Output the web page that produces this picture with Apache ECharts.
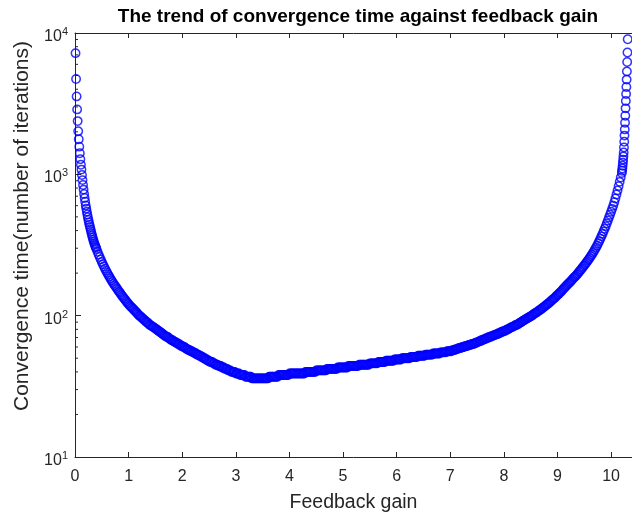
<!DOCTYPE html>
<html>
<head>
<meta charset="utf-8">
<script src="https://cdn.jsdelivr.net/npm/echarts@6/dist/echarts.min.js"></script>
<style>
  html, body { margin: 0; padding: 0; background: #fff; }
  #chart { width: 632px; height: 518px; }
</style>
</head>
<body>
<div id="chart"></div>
<script>
// feedback gain values, left (steep) part
const gainLeft = [
  0.01,0.02,0.03,0.04,0.05,0.06,0.07,0.08,0.09,0.10,
  0.11,0.12,0.13,0.14,0.15,0.16,0.17,0.18,0.19,0.20,
  0.21,0.22,0.23,0.24,0.25,0.26,0.27,0.28,0.29,0.30,
  0.31,0.32,0.33,0.34,0.35,0.36,0.37,0.38,0.39,0.40
];
const itersLeft = [
  7200,4730,3560,2880,2380,2020,1770,1570,1410,1280,
  1170,1080,990,910,840,780,725,680,640,603,
  572,545,520,497,476,457,440,424,408,394,
  380,368,356,345,335,326,318,310,303,296
];

// middle part
const gainMid = [
  0.42,0.44,0.46,0.48,0.50,0.52,0.54,0.56,0.58,0.60,
  0.62,0.64,0.66,0.68,0.70,0.72,0.74,0.76,0.78,0.80,
  0.82,0.84,0.86,0.88,0.90,0.92,0.94,0.96,0.98,1.00,
  1.02,1.04,1.06,1.08,1.10,1.12,1.14,1.16,1.18,1.20,
  1.22,1.24,1.26,1.28,1.30,1.32,1.34,1.36,1.38,1.40,
  1.42,1.44,1.46,1.48,1.50,1.52,1.54,1.56,1.58,1.60,
  1.62,1.64,1.66,1.68,1.70,1.72,1.74,1.76,1.78,1.80,
  1.82,1.84,1.86,1.88,1.90,1.92,1.94,1.96,1.98,2.00,
  2.02,2.04,2.06,2.08,2.10,2.12,2.14,2.16,2.18,2.20,
  2.22,2.24,2.26,2.28,2.30,2.32,2.34,2.36,2.38,2.40,
  2.42,2.44,2.46,2.48,2.50,2.52,2.54,2.56,2.58,2.60,
  2.62,2.64,2.66,2.68,2.70,2.72,2.74,2.76,2.78,2.80,
  2.82,2.84,2.86,2.88,2.90,2.92,2.94,2.96,2.98,3.00,
  3.02,3.04,3.06,3.08,3.10,3.12,3.14,3.16,3.18,3.20,
  3.22,3.24,3.26,3.28,3.30,3.32,3.34,3.36,3.38,3.40,
  3.42,3.44,3.46,3.48,3.50,3.52,3.54,3.56,3.58,3.60,
  3.62,3.64,3.66,3.68,3.70,3.72,3.74,3.76,3.78,3.80,
  3.82,3.84,3.86,3.88,3.90,3.92,3.94,3.96,3.98,4.00,
  4.02,4.04,4.06,4.08,4.10,4.12,4.14,4.16,4.18,4.20,
  4.22,4.24,4.26,4.28,4.30,4.32,4.34,4.36,4.38,4.40,
  4.42,4.44,4.46,4.48,4.50,4.52,4.54,4.56,4.58,4.60,
  4.62,4.64,4.66,4.68,4.70,4.72,4.74,4.76,4.78,4.80,
  4.82,4.84,4.86,4.88,4.90,4.92,4.94,4.96,4.98,5.00,
  5.02,5.04,5.06,5.08,5.10,5.12,5.14,5.16,5.18,5.20,
  5.22,5.24,5.26,5.28,5.30,5.32,5.34,5.36,5.38,5.40,
  5.42,5.44,5.46,5.48,5.50,5.52,5.54,5.56,5.58,5.60,
  5.62,5.64,5.66,5.68,5.70,5.72,5.74,5.76,5.78,5.80,
  5.82,5.84,5.86,5.88,5.90,5.92,5.94,5.96,5.98,6.00,
  6.02,6.04,6.06,6.08,6.10,6.12,6.14,6.16,6.18,6.20,
  6.22,6.24,6.26,6.28,6.30,6.32,6.34,6.36,6.38,6.40,
  6.42,6.44,6.46,6.48,6.50,6.52,6.54,6.56,6.58,6.60,
  6.62,6.64,6.66,6.68,6.70,6.72,6.74,6.76,6.78,6.80,
  6.82,6.84,6.86,6.88,6.90,6.92,6.94,6.96,6.98,7.00,
  7.02,7.04,7.06,7.08,7.10,7.12,7.14,7.16,7.18,7.20,
  7.22,7.24,7.26,7.28,7.30,7.32,7.34,7.36,7.38,7.40,
  7.42,7.44,7.46,7.48,7.50,7.52,7.54,7.56,7.58,7.60,
  7.62,7.64,7.66,7.68,7.70,7.72,7.74,7.76,7.78,7.80,
  7.82,7.84,7.86,7.88,7.90,7.92,7.94,7.96,7.98,8.00,
  8.02,8.04,8.06,8.08,8.10,8.12,8.14,8.16,8.18,8.20,
  8.22,8.24,8.26,8.28,8.30,8.32,8.34,8.36,8.38,8.40,
  8.42,8.44,8.46,8.48,8.50,8.52,8.54,8.56,8.58,8.60,
  8.62,8.64,8.66,8.68,8.70,8.72,8.74,8.76,8.78,8.80,
  8.82,8.84,8.86,8.88,8.90,8.92,8.94,8.96,8.98,9.00,
  9.02,9.04,9.06,9.08,9.10,9.12,9.14,9.16,9.18,9.20,
  9.22,9.24,9.26,9.28,9.30,9.32,9.34,9.36,9.38,9.40,
  9.42,9.44,9.46,9.48,9.50,9.52,9.54,9.56,9.58,9.60,
  9.62,9.64,9.66,9.68,9.70,9.72,9.74,9.76,9.78,9.80,
  9.82,9.84,9.86,9.88,9.90,9.92,9.94,9.96,9.98,10.00,
  10.02,10.04,10.06,10.08,10.10,10.12,10.14,10.16,10.18
];
const itersMid = [
  283,271,260,250,240,231,223,215,208,201,
  195,189,183,178,173,168,164,160,156,152,
  148,145,141,138,135,132,129,126,123,121,
  118,116,114,112,110,108,106,104,102,100,
  99,97,96,94,93,91,90,89,87,86,
  85,84,83,82,81,80,79,78,77,76,
  75,74,73,72,71,71,70,69,68,67,
  67,66,65,65,64,63,63,62,61,61,
  60,60,59,58,58,57,57,56,56,55,
  55,54,54,53,53,52,52,51,51,50,
  50,49,49,48,48,47,47,47,46,46,
  45,45,45,44,44,44,43,43,43,42,
  42,42,41,41,41,40,40,40,40,39,
  39,39,39,38,38,38,38,38,37,37,
  37,37,37,37,36,36,36,36,36,36,
  36,36,36,36,36,36,36,36,36,36,
  37,37,37,37,37,37,37,37,37,38,
  38,38,38,38,38,38,38,38,38,39,
  39,39,39,39,39,39,39,39,39,39,
  39,39,39,39,40,40,40,40,40,40,
  40,40,40,40,41,41,41,41,41,41,
  41,41,41,41,42,42,42,42,42,42,
  42,42,42,42,43,43,43,43,43,43,
  43,43,43,43,44,44,44,44,44,44,
  44,44,44,44,45,45,45,45,45,45,
  45,45,45,45,46,46,46,46,46,46,
  46,46,47,47,47,47,47,47,47,48,
  48,48,48,48,48,48,48,49,49,49,
  49,49,49,49,50,50,50,50,50,50,
  50,50,51,51,51,51,51,51,51,52,
  52,52,52,52,52,52,53,53,53,53,
  53,53,53,54,54,54,54,54,54,54,
  55,55,55,55,55,55,56,56,56,56,
  56,57,57,57,58,58,58,59,59,59,
  60,60,60,61,61,61,62,62,62,63,
  63,63,64,64,65,65,66,66,67,67,
  68,68,69,69,70,70,71,71,72,72,
  73,73,74,74,75,75,76,77,77,78,
  78,79,80,80,81,82,83,83,84,85,
  86,86,87,88,89,90,91,92,93,94,
  95,96,97,98,99,100,101,103,104,105,
  106,108,109,110,112,113,115,116,118,120,
  121,123,125,127,129,131,133,135,138,140,
  142,145,147,150,153,156,159,162,165,168,
  171,174,177,181,185,188,191,195,199,204,
  208,212,217,222,227,232,238,244,250,256,
  263,270,278,286,295,304,314,325,337,350,
  364,379,395,412,430,450,471,494,518,543,
  570,600,635,675,720,770,825,885,950
];

// right (steep) part
const gainRight = [
  10.200,10.205,10.210,10.215,10.220,10.225,10.230,10.235,10.240,10.245,
  10.250,10.255,10.260,10.265,10.270,10.275,10.280,10.285,10.290,10.295,
  10.300,10.305,10.310
];
const itersRight = [
  1020,1060,1100,1150,1210,1270,1340,1430,1550,1700,
  1880,2080,2320,2600,2930,3300,3700,4150,4680,5350,
  6230,7280,9030
];

const xTicks = [0, 1, 2, 3, 4, 5, 6, 7, 8, 9, 10];
const yMinorTicks = [20, 30, 40, 50, 60, 70, 80, 90,
  200, 300, 400, 500, 600, 700, 800, 900,
  2000, 3000, 4000, 5000, 6000, 7000, 8000, 9000];

const gain = gainLeft.concat(gainMid, gainRight);
const iters = itersLeft.concat(itersMid, itersRight);
const points = gain.map((g, i) => [g, iters[i]]);

const ink = '#262626';
const font = 'Liberation Sans, Arial, Helvetica, sans-serif';

const chart = echarts.init(document.getElementById('chart'));
chart.setOption({
  animation: false,
  backgroundColor: '#fff',
  title: {
    text: 'The trend of convergence time against feedback gain',
    left: 353,
    top: 2,
    textAlign: 'center',
    textStyle: { fontFamily: font, fontSize: 19, fontWeight: 'bold', color: '#000' }
  },
  grid: { left: 75, right: 0, top: 33, bottom: 59 },
  xAxis: [
    {
      type: 'value',
      min: 0,
      max: 10.39,
      name: 'Feedback gain',
      nameLocation: 'middle',
      nameGap: 36,
      nameTextStyle: { fontFamily: font, fontSize: 19.5, color: ink },
      axisLine: { lineStyle: { color: ink, width: 1 } },
      axisTick: { inside: true, length: 5, lineStyle: { color: ink }, customValues: xTicks },
      axisLabel: { fontFamily: font, fontSize: 16, color: ink, margin: 12, customValues: xTicks },
      splitLine: { show: false }
    },
    {
      type: 'value',
      position: 'top',
      min: 0,
      max: 10.39,
      axisLine: { lineStyle: { color: ink, width: 1 } },
      axisTick: { inside: true, length: 5, lineStyle: { color: ink }, customValues: xTicks },
      axisLabel: { show: false },
      splitLine: { show: false }
    }
  ],
  yAxis: {
    type: 'log',
    logBase: 10,
    min: 10,
    max: 10000,
    name: 'Convergence time(number of iterations)',
    nameLocation: 'middle',
    nameGap: 41,
    nameTextStyle: { fontFamily: font, fontSize: 21, color: ink, padding: [0, 0, 0, 38] },
    axisLine: { show: true, lineStyle: { color: ink, width: 1 } },
    axisTick: { inside: true, length: 6, lineStyle: { color: ink } },
    axisLabel: {
      margin: 7,
      color: ink,
      fontFamily: font,
      padding: [7, 0, 0, 0],
      formatter: v => '{b|10}{s|' + Math.round(Math.log10(v)) + '}',
      rich: {
        b: { fontFamily: font, fontSize: 16, color: ink },
        s: { fontFamily: font, fontSize: 11, color: ink, verticalAlign: 'top', padding: [0, 0, 9, 0] }
      }
    },
    splitLine: { show: false }
  },
  series: [
    {
      type: 'scatter',
      data: points,
      symbol: 'circle',
      symbolSize: 8.4,
      itemStyle: { color: 'rgba(0,0,0,0)', borderColor: '#0000ff', borderWidth: 1.5 },
      silent: true
    },
    {
      type: 'custom',
      data: yMinorTicks.map(v => [0, v]),
      silent: true,
      clip: false,
      renderItem: (params, api) => {
        const p = api.coord([api.value(0), api.value(1)]);
        return {
          type: 'line',
          shape: { x1: p[0], y1: p[1], x2: p[0] + 3, y2: p[1] },
          style: { stroke: ink, lineWidth: 1 }
        };
      }
    }
  ]
});
</script>
</body>
</html>
